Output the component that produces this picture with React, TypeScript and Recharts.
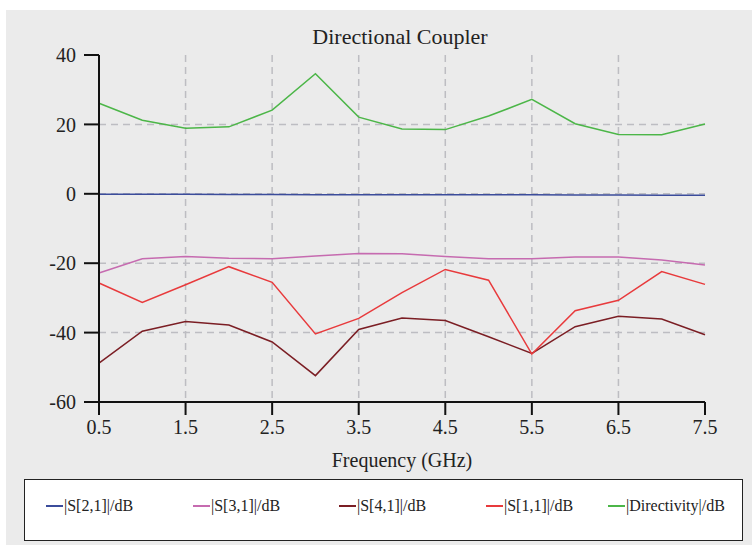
import React from "react";
import {
  CartesianGrid,
  Label,
  Legend,
  Line,
  LineChart,
  XAxis,
  YAxis,
} from "recharts";

const frequencies = [0.5, 1, 1.5, 2, 2.5, 3, 3.5, 4, 4.5, 5, 5.5, 6, 6.5, 7, 7.5];
const s21 = [-0.1, -0.1, -0.15, -0.2, -0.2, -0.25, -0.25, -0.3, -0.3, -0.3, -0.3, -0.35, -0.35, -0.4, -0.4];
const s31 = [-22.8, -18.7, -18.1, -18.6, -18.7, -17.9, -17.2, -17.3, -18.1, -18.7, -18.7, -18.2, -18.2, -19.1, -20.5];
const s41 = [-48.8, -39.6, -36.8, -37.8, -42.7, -52.4, -39.1, -35.8, -36.5, -41.2, -46.0, -38.3, -35.3, -36.1, -40.6];
const s11 = [-25.7, -31.3, -26.2, -21.0, -25.5, -40.4, -35.9, -28.5, -21.8, -24.9, -46.2, -33.7, -30.7, -22.4, -26.1];
const directivity = [26.1, 21.2, 18.9, 19.3, 24.1, 34.6, 22.1, 18.7, 18.5, 22.4, 27.2, 20.2, 17.1, 17.0, 20.1];

const xTicks = [0.5, 1.5, 2.5, 3.5, 4.5, 5.5, 6.5, 7.5];
const yTicks = [-60, -40, -20, 0, 20, 40];

const series = [
  { key: "s21", name: "|S[2,1]|/dB", color: "#3b4c9b", values: s21 },
  { key: "s31", name: "|S[3,1]|/dB", color: "#c66bb0", values: s31 },
  { key: "s41", name: "|S[4,1]|/dB", color: "#7b1e24", values: s41 },
  { key: "s11", name: "|S[1,1]|/dB", color: "#e83a3c", values: s11 },
  { key: "dir", name: "|Directivity|/dB", color: "#4cb648", values: directivity },
];

const data = frequencies.map((f, i) => {
  const row: Record<string, number> = { f };
  series.forEach((s) => {
    row[s.key] = s.values[i];
  });
  return row;
});

const FONT = '"Liberation Serif", "Times New Roman", serif';
const legendX = [21, 168, 314, 461, 583];

function LegendBox() {
  return (
    <div
      style={{
        position: "relative",
        width: 719,
        height: 62,
        boxSizing: "border-box",
        border: "1px solid #222",
        background: "#fff",
        fontFamily: FONT,
        fontSize: 16,
        color: "#222",
      }}
    >
      {series.map((s, i) => (
        <div
          key={s.key}
          style={{
            position: "absolute",
            left: legendX[i],
            top: 17,
            display: "flex",
            alignItems: "center",
            whiteSpace: "nowrap",
          }}
        >
          <span style={{ display: "inline-block", width: 17, height: 2, background: s.color, marginRight: 1 }} />
          <span>{s.name}</span>
        </div>
      ))}
    </div>
  );
}

export default function App() {
  return (
    <div style={{ position: "absolute", left: 0, top: 0, width: 752, height: 545, background: "#fff" }}>
      <div style={{ position: "absolute", left: 6, top: 10, width: 746, height: 535, background: "#ebebeb" }} />
      <div
        style={{
          position: "absolute",
          left: 0,
          width: 800,
          top: 25,
          textAlign: "center",
          fontFamily: FONT,
          fontSize: 22,
          lineHeight: "24px",
          color: "#222",
        }}
      >
        Directional Coupler
      </div>
      <div style={{ position: "absolute", left: 0, top: 0 }}>
        <LineChart
          width={752}
          height={545}
          data={data}
          margin={{ top: 55, right: 47, bottom: 4, left: 0 }}
          style={{ fontFamily: FONT }}
        >
          <CartesianGrid
            stroke="#bdbdc2"
            strokeWidth={1.5}
            strokeDasharray="7 5"
            horizontalValues={[-40, -20, 0, 20]}
            verticalValues={[1.5, 2.5, 3.5, 4.5, 5.5, 6.5]}
          />
          <XAxis
            dataKey="f"
            type="number"
            domain={[0.5, 7.5]}
            ticks={xTicks}
            tickFormatter={(v: number) => v.toFixed(1)}
            height={77}
            tickSize={13}
            tickMargin={5}
            axisLine={{ stroke: "#111", strokeWidth: 2 }}
            tickLine={{ stroke: "#111", strokeWidth: 2 }}
            tick={{ fill: "#222", fontSize: 20 }}
          >
            <Label
              value="Frequency (GHz)"
              position="insideBottom"
              offset={12}
              style={{ fill: "#222", fontSize: 20 }}
            />
          </XAxis>
          <XAxis
            xAxisId="top"
            dataKey="f"
            type="number"
            domain={[0.5, 7.5]}
            orientation="top"
            height={0}
            tick={false}
            tickLine={false}
            axisLine={{ stroke: "#666", strokeWidth: 1.5 }}
          />
          <YAxis
            type="number"
            domain={[-60, 40]}
            ticks={yTicks}
            width={99}
            tickSize={15}
            tickMargin={8}
            axisLine={{ stroke: "#111", strokeWidth: 2 }}
            tickLine={{ stroke: "#111", strokeWidth: 2 }}
            tick={{ fill: "#222", fontSize: 20 }}
          />
          <YAxis
            yAxisId="right"
            orientation="right"
            type="number"
            domain={[-60, 40]}
            width={0}
            tick={false}
            tickLine={false}
            axisLine={{ stroke: "#666", strokeWidth: 1.5 }}
          />
          <Legend
            verticalAlign="bottom"
            layout="horizontal"
            wrapperStyle={{ left: 24, width: 719 }}
            content={() => <LegendBox />}
          />
          {series.map((s) => (
            <Line
              key={s.key}
              type="linear"
              dataKey={s.key}
              name={s.name}
              stroke={s.color}
              strokeWidth={1.5}
              dot={false}
              isAnimationActive={false}
            />
          ))}
        </LineChart>
      </div>
    </div>
  );
}
